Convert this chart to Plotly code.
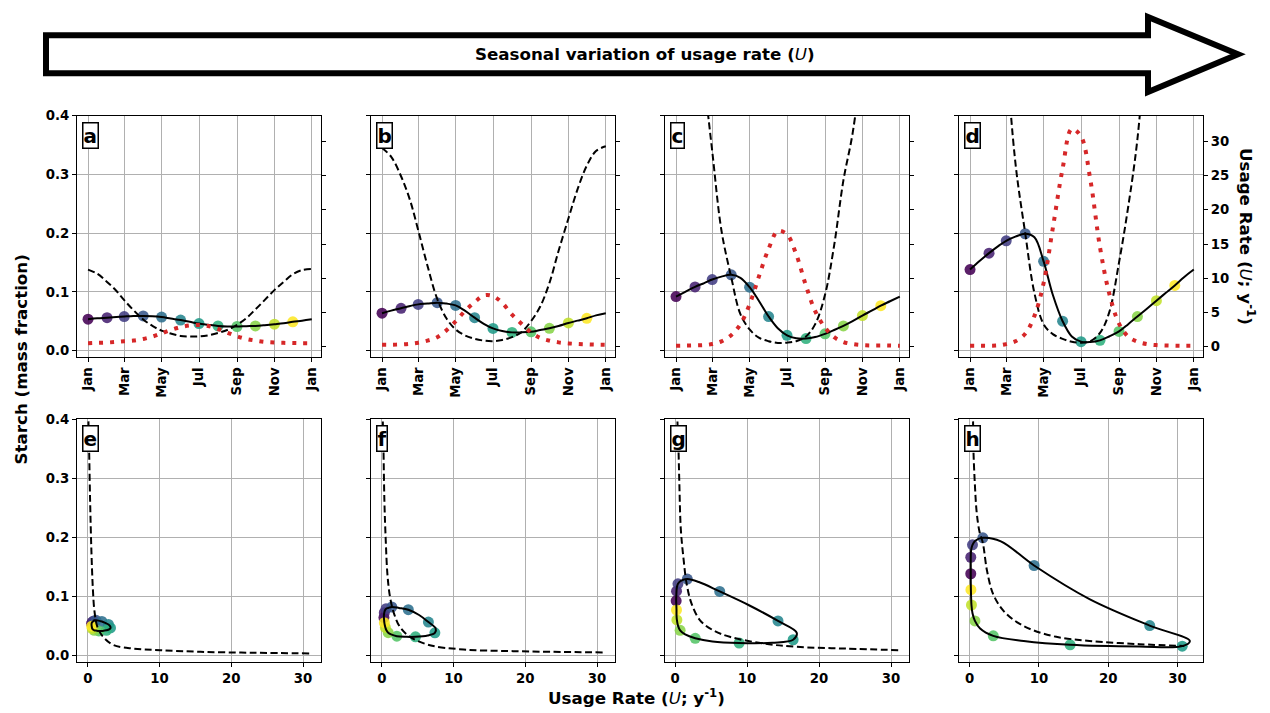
import plotly.graph_objects as go

# ---------------- data ----------------
# semi-monthly sample days (day of year); the even entries are the 1st of each month
DAYS = [0, 15, 31, 46, 59, 74, 90, 105, 120, 135, 151, 166, 181, 196,
        212, 227, 243, 258, 273, 288, 304, 319, 334, 349, 365]
MONTH_TICK_DAYS = [0, 59, 120, 181, 243, 304, 365]
MONTH_TICK_LABELS = ["Jan", "Mar", "May", "Jul", "Sep", "Nov", "Jan"]
MONTH_INDEX = list(range(12))          # colour index of the monthly dots (Jan..Dec)
STARCH_TICKS = [0.0, 0.1, 0.2, 0.3, 0.4]
USAGE_TICKS = [0, 5, 10, 15, 20, 25, 30]
USAGE_X_TICKS = [0, 10, 20, 30]
PANEL_LETTERS = ["a", "b", "c", "d", "e", "f", "g", "h"]

# scenario a / e
USAGE_A = [0.53, 0.58, 0.62, 0.72, 0.82, 0.91, 1.15, 1.49, 1.97, 2.45, 2.88, 3.12, 3.17,
           3.03, 2.60, 2.07, 1.54, 1.15, 0.91, 0.72, 0.62, 0.58, 0.55, 0.53, 0.53]
STARCH_A = [0.0534, 0.055, 0.056, 0.057, 0.058, 0.059, 0.059, 0.0585, 0.057, 0.0545, 0.052,
            0.049, 0.046, 0.044, 0.042, 0.041, 0.041, 0.0416, 0.042, 0.0433, 0.045, 0.0467,
            0.049, 0.051, 0.0534]
EQUIL_A = [0.138, 0.131, 0.117, 0.102, 0.086, 0.069, 0.053, 0.042, 0.034, 0.029, 0.025, 0.024,
           0.024, 0.026, 0.030, 0.035, 0.044, 0.055, 0.070, 0.086, 0.103, 0.117, 0.130, 0.137, 0.139]

# scenario b / f
USAGE_B = [0.30, 0.30, 0.35, 0.45, 0.60, 0.90, 1.40, 2.40, 3.70, 5.20, 6.50, 7.50, 7.40,
           6.40, 4.70, 3.40, 2.10, 1.30, 0.90, 0.65, 0.50, 0.42, 0.36, 0.32, 0.30]
STARCH_B = [0.0636, 0.068, 0.072, 0.076, 0.0787, 0.080, 0.0816, 0.080, 0.077, 0.068, 0.056,
            0.0456, 0.0377, 0.0332, 0.031, 0.031, 0.032, 0.035, 0.038, 0.042, 0.047, 0.051,
            0.055, 0.060, 0.0636]
EQUIL_B = [0.345, 0.330, 0.297, 0.255, 0.205, 0.145, 0.088, 0.055, 0.036, 0.026, 0.020, 0.017,
           0.016, 0.018, 0.023, 0.031, 0.050, 0.075, 0.115, 0.170, 0.225, 0.275, 0.315, 0.340, 0.348]

# scenario c / g
USAGE_C = [0.15, 0.17, 0.20, 0.25, 0.40, 0.80, 1.70, 3.30, 6.20, 10.2, 14.3, 16.9, 16.4,
           13.5, 8.90, 5.20, 2.80, 1.40, 0.70, 0.40, 0.25, 0.20, 0.20, 0.18, 0.15]
STARCH_C = [0.092, 0.100, 0.1085, 0.115, 0.121, 0.126, 0.129, 0.124, 0.108, 0.085, 0.058,
            0.038, 0.026, 0.021, 0.0205, 0.023, 0.0285, 0.035, 0.042, 0.050, 0.0596, 0.068,
            0.0765, 0.084, 0.092]
EQUIL_C = [0.85, 0.75, 0.60, 0.46, 0.34, 0.205, 0.125, 0.062, 0.036, 0.022, 0.016, 0.013,
           0.0135, 0.016, 0.024, 0.045, 0.095, 0.180, 0.290, 0.370, 0.50, 0.65, 0.75, 0.82, 0.85]

# scenario d / h
USAGE_D = [0.15, 0.15, 0.15, 0.20, 0.40, 0.80, 1.90, 4.50, 9.30, 17.3, 26.0, 31.8, 30.7,
           24.5, 14.5, 7.80, 3.40, 1.50, 0.75, 0.40, 0.25, 0.20, 0.17, 0.15, 0.15]
STARCH_D = [0.138, 0.152, 0.166, 0.178, 0.187, 0.194, 0.199, 0.193, 0.152, 0.095, 0.050,
            0.024, 0.0152, 0.0145, 0.0174, 0.024, 0.0326, 0.045, 0.058, 0.071, 0.085, 0.098,
            0.111, 0.125, 0.138]
EQUIL_D = [1.2, 1.2, 1.1, 0.85, 0.52, 0.32, 0.20, 0.098, 0.045, 0.028, 0.020, 0.015, 0.0135,
           0.016, 0.030, 0.065, 0.150, 0.245, 0.360, 0.55, 0.80, 1.0, 1.15, 1.2, 1.2]

# equilibrium starch vs usage rate (dashed curves, bottom row)
EQ_U_E = [0.07, 0.09, 0.19, 0.33, 0.51, 0.70, 0.93, 1.35, 2.2, 3.6, 6.4, 10.1, 15.7, 23.1, 31.0]
EQ_S_E = [0.45, 0.40, 0.347, 0.26, 0.176, 0.115, 0.075, 0.0475, 0.030, 0.017, 0.011, 0.0084,
          0.0056, 0.004, 0.0028]
EQ_U_F = [0.10, 0.14, 0.23, 0.37, 0.56, 0.79, 1.16, 1.72, 2.55, 3.94, 6.7, 11.4, 18.3, 30.8]
EQ_S_F = [0.45, 0.40, 0.355, 0.26, 0.193, 0.137, 0.098, 0.070, 0.0475, 0.031, 0.0168, 0.0095,
          0.0067, 0.0045]
EQ_U_G = [0.28, 0.32, 0.46, 0.60, 0.79, 1.16, 1.62, 2.3, 3.47, 5.3, 7.6, 12.3, 16.9, 23.8, 31.0]
EQ_S_G = [0.45, 0.40, 0.355, 0.288, 0.215, 0.165, 0.12, 0.087, 0.059, 0.042, 0.031, 0.0196,
          0.014, 0.011, 0.0084]
EQ_U_H = [0.45, 0.48, 0.53, 0.75, 1.0, 1.4, 1.9, 2.5, 3.4, 4.85, 6.8, 9.2, 12.5, 17.3, 24.5, 31.0]
EQ_S_H = [0.45, 0.40, 0.35, 0.288, 0.243, 0.21, 0.19, 0.143, 0.103, 0.0755, 0.056, 0.042,
          0.031, 0.024, 0.0185, 0.0155]

SCEN_USAGE = [USAGE_A, USAGE_B, USAGE_C, USAGE_D]
SCEN_STARCH = [STARCH_A, STARCH_B, STARCH_C, STARCH_D]
SCEN_EQUIL = [EQUIL_A, EQUIL_B, EQUIL_C, EQUIL_D]
EQ_U = [EQ_U_E, EQ_U_F, EQ_U_G, EQ_U_H]
EQ_S = [EQ_S_E, EQ_S_F, EQ_S_G, EQ_S_H]

# ---------------- layout helpers ----------------
FIG_W, FIG_H = 1270, 713
FONT = "DejaVu Sans"
COLS = [(77, 321), (371, 615), (665, 909), (959, 1203)]
TOP_ROW = (110, 354)
BOT_ROW = (417, 662)
BOT_XRANGES = [[-1.5, 32.5], [-1.5, 32.5], [-1.4, 32.5], [-1.55, 33.7]]


def dom_x(c):
    return [c[0] / FIG_W, c[1] / FIG_W]


def dom_y(r):
    return [1 - r[1] / FIG_H, 1 - r[0] / FIG_H]


def sfx(k):
    return "" if k == 1 else str(k)


tick_font = dict(family=FONT, size=13.3, color="black", weight="bold")
axis_common = dict(showline=True, linecolor="black", linewidth=1, mirror=True,
                   ticks="outside", ticklen=4, tickwidth=1, tickcolor="black",
                   showgrid=True, gridcolor="#b0b0b0", gridwidth=1, zeroline=False,
                   tickfont=tick_font)
letter_font = dict(family=FONT, size=20, color="black", weight="bold")

fig = go.Figure()
layout = {}
annotations = []

DASH_BLACK = "7px,3.5px"
DOT_RED = "4px,7px"

for i in range(4):
    # ---------- top row: time series ----------
    k = i + 1
    xa, ya, ya2 = "x" + sfx(k), "y" + sfx(k), "y" + str(k + 8)
    U, S, E = SCEN_USAGE[i], SCEN_STARCH[i], SCEN_EQUIL[i]
    fig.add_trace(go.Scatter(x=DAYS[0:24:2], y=S[0:24:2], mode="markers",
                             marker=dict(size=11, color=MONTH_INDEX, colorscale="Viridis",
                                         cmin=0, cmax=11, opacity=0.88, line=dict(width=0)),
                             xaxis=xa, yaxis=ya, showlegend=False, hoverinfo="skip"))
    fig.add_trace(go.Scatter(x=DAYS, y=E, mode="lines",
                             line=dict(color="black", width=2, dash=DASH_BLACK, shape="spline"),
                             xaxis=xa, yaxis=ya, showlegend=False))
    fig.add_trace(go.Scatter(x=DAYS, y=S, mode="lines",
                             line=dict(color="black", width=2, shape="spline"),
                             xaxis=xa, yaxis=ya, showlegend=False))
    fig.add_trace(go.Scatter(x=DAYS, y=U, mode="lines",
                             line=dict(color="#d62728", width=4, dash=DOT_RED, shape="spline"),
                             xaxis=xa, yaxis=ya2, showlegend=False))

    layout["xaxis" + sfx(k)] = dict(axis_common, domain=dom_x(COLS[i]), anchor=ya,
                                    range=[-18, 380], tickvals=MONTH_TICK_DAYS,
                                    ticktext=MONTH_TICK_LABELS, tickangle=-90)
    layout["yaxis" + sfx(k)] = dict(axis_common, domain=dom_y(TOP_ROW), anchor=xa,
                                    range=[-0.011, 0.4], tickvals=STARCH_TICKS,
                                    tickformat=".1f", showticklabels=(i == 0))
    layout["yaxis" + str(k + 8)] = dict(overlaying=ya, side="right", anchor=xa,
                                        range=[-1.49, 33.71], tickvals=USAGE_TICKS,
                                        ticks="outside", ticklen=4, tickwidth=1,
                                        tickcolor="black", showgrid=False, zeroline=False,
                                        showline=True, linecolor="black", linewidth=1,
                                        showticklabels=(i == 3), tickfont=tick_font)
    annotations.append(dict(text=PANEL_LETTERS[i], xref=xa + " domain", yref=ya + " domain",
                            x=0.02, y=0.975, xanchor="left", yanchor="top", showarrow=False,
                            font=letter_font, bgcolor="white", bordercolor="black",
                            borderwidth=1.5, borderpad=0))

    # ---------- bottom row: starch vs usage ----------
    k2 = i + 5
    xb, yb = "x" + str(k2), "y" + str(k2)
    fig.add_trace(go.Scatter(x=U[0:24:2], y=S[0:24:2], mode="markers",
                             marker=dict(size=11, color=MONTH_INDEX, colorscale="Viridis",
                                         cmin=0, cmax=11, opacity=0.88, line=dict(width=0)),
                             xaxis=xb, yaxis=yb, showlegend=False, hoverinfo="skip"))
    fig.add_trace(go.Scatter(x=EQ_U[i], y=EQ_S[i], mode="lines",
                             line=dict(color="black", width=2, dash=DASH_BLACK, shape="spline"),
                             xaxis=xb, yaxis=yb, showlegend=False))
    fig.add_trace(go.Scatter(x=U, y=S, mode="lines",
                             line=dict(color="black", width=2, shape="spline"),
                             xaxis=xb, yaxis=yb, showlegend=False))
    layout["xaxis" + str(k2)] = dict(axis_common, domain=dom_x(COLS[i]), anchor=yb,
                                     range=BOT_XRANGES[i], tickvals=USAGE_X_TICKS)
    layout["yaxis" + str(k2)] = dict(axis_common, domain=dom_y(BOT_ROW), anchor=xb,
                                     range=[-0.011, 0.4], tickvals=STARCH_TICKS,
                                     tickformat=".1f", showticklabels=(i == 0))
    annotations.append(dict(text=PANEL_LETTERS[i + 4], xref=xb + " domain", yref=yb + " domain",
                            x=0.02, y=0.975, xanchor="left", yanchor="top", showarrow=False,
                            font=letter_font, bgcolor="white", bordercolor="black",
                            borderwidth=1.5, borderpad=0))

label_font = dict(family=FONT, size=16.7, color="black", weight="bold")
U_ITALIC = '<span style="font-weight:normal"><i>U</i></span>'
annotations += [
    dict(text="Seasonal variation of usage rate (" + U_ITALIC + ")", xref="paper", yref="paper",
         x=645 / FIG_W, y=1 - 47.5 / FIG_H, showarrow=False, font=label_font,
         xanchor="center", yanchor="middle"),
    dict(text="Starch (mass fraction)", xref="paper", yref="paper", x=20 / FIG_W, y=0.5,
         textangle=-90, showarrow=False, font=label_font, xanchor="center", yanchor="middle"),
    dict(text="Usage Rate (" + U_ITALIC + "; y<sup>-1</sup>)", xref="paper", yref="paper",
         x=636 / FIG_W, y=1 - 698 / FIG_H, showarrow=False, font=label_font,
         xanchor="center", yanchor="middle"),
    dict(text="Usage Rate (" + U_ITALIC + "; y<sup>-1</sup>)", xref="paper", yref="paper",
         x=1247 / FIG_W, y=1 - 231.5 / FIG_H, textangle=90, showarrow=False, font=label_font,
         xanchor="center", yanchor="middle"),
]

# big outline arrow at the top (pixel geometry -> paper coordinates)
ARROW_PTS = [(46, 28.5), (1148, 28.5), (1148, 10), (1238, 47.75), (1148, 86), (1148, 67), (46, 67)]
path = "M " + " L ".join(f"{px / FIG_W:.5f},{1 - py / FIG_H:.5f}" for px, py in ARROW_PTS) + " Z"
shapes = [dict(type="path", path=path, xref="paper", yref="paper",
               line=dict(color="black", width=6), fillcolor="rgba(0,0,0,0)", layer="below")]

fig.update_layout(**layout)
fig.update_layout(width=FIG_W, height=FIG_H, autosize=False,
                  margin=dict(l=0, r=0, t=0, b=0, pad=0),
                  paper_bgcolor="white", plot_bgcolor="white",
                  font=dict(family=FONT, color="black"),
                  showlegend=False, annotations=annotations, shapes=shapes)

fig.write_html("out.html",
               config={"displayModeBar": False},
               post_script="document.body.style.margin='0px';"
                           "document.body.style.overflow='hidden';")
